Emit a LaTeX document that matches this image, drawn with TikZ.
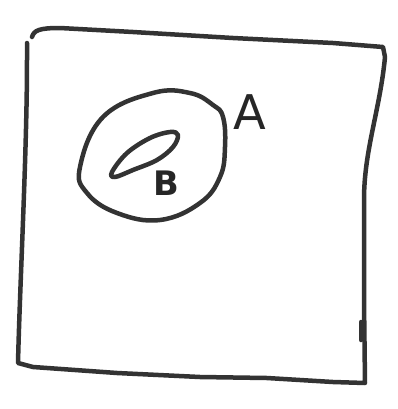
\documentclass[tikz,border=0pt]{standalone}
\usepackage{fontspec}
\setmainfont{DejaVu Sans}
\begin{document}
\begin{tikzpicture}[
    x=0.025cm, y=-0.025cm,
    pen/.style={draw=black!80, line width=3.2pt, line cap=round, line join=round},
    setname/.style={text=black!85, inner sep=0pt}
]
\useasboundingbox (0,0) rectangle (398,409);

% outer box
\draw[pen] (32,37) .. controls (34,30) and (40,28) .. (60,28)
    -- (133,32) -- (233,38) -- (333,43) -- (383,47) -- (385,57)
    .. controls (380,110) and (364,150) .. (364,200)
    -- (364,300) -- (365,383)
    -- (333,382) -- (267,378) -- (200,377) -- (117,373) -- (33,367) -- (18,363)
    .. controls (20,280) and (27,150) .. (27,60) -- (27,43);
\draw[pen] (361,322) -- (361,340);

% set A
\draw[pen] plot[smooth cycle, tension=0.7] coordinates {
    (80,167) (103,117) (153,93) (190,93) (213,105) (223,117)
    (225,147) (220,177) (200,203) (160,220) (117,213) (87,193)};
\node[setname, font=\fontsize{34}{34}\selectfont] (labelA) at (250,112) {A};

% set B
\draw[pen] plot[smooth cycle, tension=0.6] coordinates {
    (112,172) (127,153) (150,138) (170,132) (178,135)
    (173,147) (157,160) (133,170) (115,177)};
\node[setname, font=\fontsize{24}{24}\bfseries] (labelB) at (166,183) {B};

\end{tikzpicture}
\end{document}
